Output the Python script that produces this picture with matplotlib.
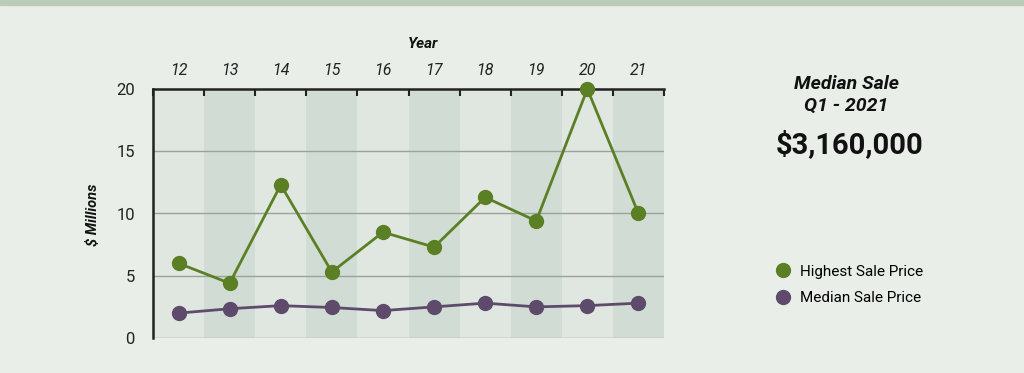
import matplotlib
matplotlib.use("Agg")
import matplotlib.pyplot as plt
from matplotlib.lines import Line2D

years = ["12", "13", "14", "15", "16", "17", "18", "19", "20", "21"]
highest = [6.0, 4.4, 12.3, 5.3, 8.5, 7.3, 11.3, 9.4, 20.0, 10.0]
median = [2.0, 2.35, 2.6, 2.45, 2.2, 2.5, 2.8, 2.5, 2.6, 2.8]
yticks = [0, 5, 10, 15, 20]

plt.rcParams['font.family'] = ['Roboto', 'DejaVu Sans']

BG = '#e9eee9'
GREEN = '#5b7f24'
PURPLE = '#5e4b6c'

fig = plt.figure(figsize=(10.24, 3.73), dpi=100, facecolor=BG)
# top strip
fig.patches.append(plt.Rectangle((0, 1 - 5 / 373), 1, 5 / 373, transform=fig.transFigure,
                                 color='#b9cdb9', zorder=0))

ax = fig.add_axes([153 / 1024, 1 - 338 / 373, 511 / 1024, 249 / 373])
ax.set_facecolor(BG)
x = list(range(len(years)))
for i in x:
    ax.axvspan(i - 0.5, i + 0.5, color='#e0e7e1' if i % 2 == 0 else '#d1ddd4', zorder=0, lw=0)
for v in yticks[:-1]:
    ax.axhline(v, color='#9aa29c', lw=1.0, zorder=1)

ax.plot(x, highest, color=GREEN, lw=2.0, marker='o', markersize=10, zorder=4, clip_on=False)
ax.plot(x, median, color=PURPLE, lw=2.0, marker='o', markersize=10, zorder=4, clip_on=False)

ax.set_xlim(-0.5, len(years) - 0.5)
ax.set_ylim(0, 20)
ax.set_yticks(yticks)
ax.set_yticklabels([str(v) for v in yticks], fontsize=12, color='#222222')
ax.tick_params(axis='y', length=0, pad=13)

ax.xaxis.tick_top()
ax.set_xticks(x)
ax.set_xticklabels(years, fontsize=11.5, style='italic', color='#222222')
ax.set_xticks([i - 0.5 for i in range(len(years) + 1)], minor=True)
ax.tick_params(axis='x', which='major', length=0, pad=8)
ax.tick_params(axis='x', which='minor', length=5, width=1.5, direction='in', color='#222222', top=True, bottom=False)

fig.text(423 / 1024, 1 - 44 / 373, 'Year', ha='center', va='center', fontsize=11,
         fontweight='bold', style='italic', color='#111111')
fig.text(93 / 1024, 1 - 215 / 373, '$ Millions', ha='center', va='center', rotation=90,
         fontsize=10.5, fontweight='bold', style='italic', color='#111111')

for s in ['right', 'bottom']:
    ax.spines[s].set_visible(False)
for s in ['left', 'top']:
    ax.spines[s].set_color('#222222')
    ax.spines[s].set_linewidth(1.8)

fig.text(846 / 1024, 1 - 84 / 373, 'Median Sale', ha='center', va='center', fontsize=14,
         fontweight='bold', style='italic', color='#111111')
fig.text(846 / 1024, 1 - 106 / 373, 'Q1 - 2021', ha='center', va='center', fontsize=14,
         fontweight='bold', style='italic', color='#111111')
fig.text(850 / 1024, 1 - 145 / 373, '$3,160,000', ha='center', va='center', fontsize=21,
         fontweight='bold', color='#111111')

handles = [Line2D([], [], ls='', marker='o', markersize=10, color=GREEN),
           Line2D([], [], ls='', marker='o', markersize=10, color=PURPLE)]
fig.legend(handles, ['Highest Sale Price', 'Median Sale Price'], loc='center left',
           bbox_to_anchor=(760 / 1024, 1 - 285 / 373), frameon=False, fontsize=11,
           handletextpad=0.5, labelspacing=0.85, handlelength=1.2)

fig.savefig('out.png', dpi=100, facecolor=BG)
